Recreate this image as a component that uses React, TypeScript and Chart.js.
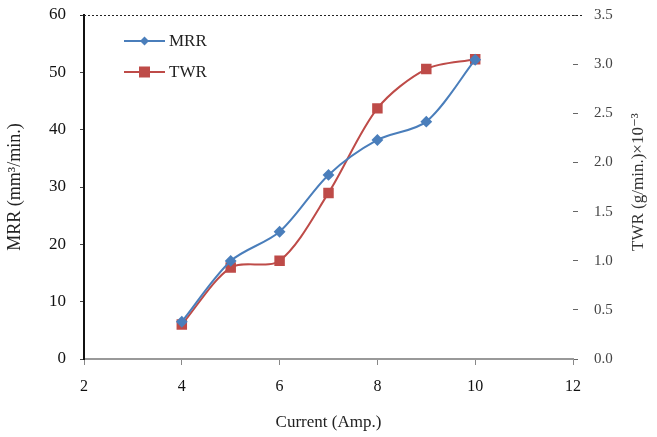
import React, { useEffect, useRef } from "react";
import { Chart, registerables } from "chart.js";
Chart.register(...registerables);

const currents = [4, 5, 6, 7, 8, 9, 10];
const mrrValues = [6.5, 17.1, 22.2, 32.1, 38.2, 41.4, 52.2];
const twrValues = [0.35, 0.93, 1.0, 1.69, 2.55, 2.95, 3.05];
const xTicks = [2, 4, 6, 8, 10, 12];
const seriesNames = ["MRR", "TWR"];

const SERIF = "'Liberation Serif', 'DejaVu Serif', serif";
const BLUE = "#4a7ebb";
const RED = "#be4b48";

const overlay = {
  id: "overlay",
  afterDraw(chart: any) {
    const { ctx, chartArea } = chart;
    ctx.save();
    // dotted top border
    ctx.strokeStyle = "#222";
    ctx.lineWidth = 1;
    ctx.setLineDash([2, 2]);
    ctx.beginPath();
    ctx.moveTo(chartArea.left - 4, chartArea.top + 0.5);
    ctx.lineTo(chartArea.right + 10, chartArea.top + 0.5);
    ctx.stroke();
    ctx.setLineDash([]);
    // legend
    const items = [
      { name: seriesNames[0], color: BLUE, style: "diamond" },
      { name: seriesNames[1], color: RED, style: "square" },
    ];
    items.forEach((it, i) => {
      const y = 41 + i * 31;
      const x0 = 124, x1 = 165;
      ctx.strokeStyle = it.color;
      ctx.lineWidth = 2;
      ctx.beginPath();
      ctx.moveTo(x0, y);
      ctx.lineTo(x1, y);
      ctx.stroke();
      const cx = (x0 + x1) / 2;
      ctx.fillStyle = it.color;
      if (it.style === "diamond") {
        ctx.beginPath();
        ctx.moveTo(cx, y - 4.5);
        ctx.lineTo(cx + 4.5, y);
        ctx.lineTo(cx, y + 4.5);
        ctx.lineTo(cx - 4.5, y);
        ctx.closePath();
        ctx.fill();
      } else {
        ctx.fillRect(cx - 5.5, y - 5.5, 11, 11);
      }
      ctx.fillStyle = "#222";
      ctx.font = `17px ${SERIF}`;
      ctx.textBaseline = "middle";
      ctx.textAlign = "left";
      ctx.fillText(it.name, x1 + 4, y + 1);
    });
    // right axis title (reads bottom to top)
    ctx.translate(639, 182);
    ctx.rotate(-Math.PI / 2);
    ctx.fillStyle = "#333";
    ctx.font = `17px ${SERIF}`;
    ctx.textAlign = "center";
    ctx.textBaseline = "middle";
    ctx.fillText("TWR (g/min.)×10\u207B\u00B3", 0, 0);
    ctx.restore();
  },
};

export default function App() {
  const ref = useRef<HTMLCanvasElement>(null);
  useEffect(() => {
    document.body.style.margin = "0";
    const chart = new Chart(ref.current!, {
      type: "line",
      data: {
        datasets: [
          {
            label: seriesNames[0],
            data: currents.map((x, i) => ({ x, y: mrrValues[i] })),
            borderColor: BLUE,
            backgroundColor: BLUE,
            borderWidth: 2,
            pointStyle: "rectRot",
            pointRadius: 4.5,
            tension: 0.3,
            yAxisID: "y",
          },
          {
            label: seriesNames[1],
            data: currents.map((x, i) => ({ x, y: twrValues[i] })),
            borderColor: RED,
            backgroundColor: RED,
            borderWidth: 2,
            pointStyle: "rect",
            pointRadius: 6,
            tension: 0.3,
            yAxisID: "y1",
          },
        ],
      },
      options: {
        animation: false,
        responsive: false,
        layout: { padding: { top: 15 } },
        plugins: { legend: { display: false }, tooltip: { enabled: false } },
        scales: {
          x: {
            type: "linear",
            min: 2,
            max: 12,
            afterBuildTicks: (s: any) => {
              s.ticks = xTicks.map((v) => ({ value: v }));
            },
            afterFit: (s: any) => {
              s.height = 78;
              s.paddingLeft = 0;
              s.paddingRight = 0;
            },
            grid: {
              display: true,
              drawOnChartArea: false,
              drawTicks: true,
              tickLength: 6,
              color: "#888",
            },
            border: { color: "#999", width: 2 },
            ticks: {
              color: "#111",
              font: { family: SERIF, size: 16 },
              padding: 12,
            },
            title: {
              display: true,
              text: "Current (Amp.)",
              color: "#222",
              font: { family: SERIF, size: 17 },
              padding: { top: 8 },
            },
          },
          y: {
            position: "left",
            min: 0,
            max: 60,
            ticks: {
              stepSize: 10,
              color: "#111",
              font: { family: SERIF, size: 17 },
              padding: 14,
            },
            afterFit: (s: any) => {
              s.width = 84;
              s.paddingTop = 0;
              s.paddingBottom = 0;
            },
            grid: {
              display: true,
              drawOnChartArea: false,
              tickLength: 4,
              color: "#444",
            },
            border: { color: "#111", width: 2 },
            title: {
              display: true,
              text: "MRR (mm³/min.)",
              color: "#222",
              font: { family: SERIF, size: 18 },
              padding: { bottom: 2 },
            },
          },
          y1: {
            position: "right",
            min: 0,
            max: 3.5,
            ticks: {
              stepSize: 0.5,
              color: "#444",
              font: { family: SERIF, size: 15 },
              padding: 16,
              callback: (v: any) => Number(v).toFixed(1),
            },
            afterFit: (s: any) => {
              s.width = 84;
              s.paddingTop = 0;
              s.paddingBottom = 0;
            },
            grid: {
              display: true,
              drawOnChartArea: false,
              tickLength: 5,
              color: "#666",
            },
            border: { display: false },
          },
        },
      },
      plugins: [overlay],
    } as any);
    return () => chart.destroy();
  }, []);
  return <canvas ref={ref} width={657} height={437} style={{ display: "block" }} />;
}
